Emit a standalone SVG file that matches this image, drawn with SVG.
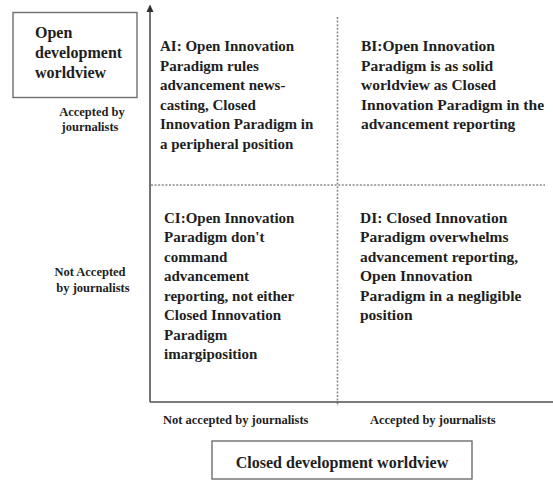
<svg xmlns="http://www.w3.org/2000/svg" width="553" height="480" viewBox="0 0 553 480">
  <style>
    .t { font-family: "Liberation Serif", "Times New Roman", serif; font-weight: bold; fill: #1e1e1e; }
    .q { font-size: 15px; }
    .qr { font-size: 15.5px; }
    .lbl { font-size: 12.5px; }
    .box { fill: #ffffff; stroke: #6e6e6e; stroke-width: 1.4; }
    .axis { stroke: #505050; stroke-width: 1.6; fill: none; }
    .grid { stroke: #8a8a8a; stroke-width: 1.6; stroke-dasharray: 2 1.6; fill: none; }
  </style>
  <defs>
    <marker id="arrowUp" viewBox="0 0 10 10" refX="5" refY="0" markerWidth="5" markerHeight="5" orient="auto-start-reverse" markerUnits="userSpaceOnUse">
      <path d="M0,0 L10,5 L0,10 Z" fill="#303030"/>
    </marker>
  </defs>
  <rect width="553" height="480" fill="#ffffff"/>

  <!-- axes and quadrant dividers -->
  <g id="connectors">
    <line class="grid" x1="337.5" y1="17" x2="337.5" y2="406"/>
    <line class="grid" x1="151" y1="185" x2="545" y2="185"/>
    <line class="axis" x1="150" y1="402" x2="553" y2="402"/>
    <line class="axis" x1="150" y1="402" x2="150" y2="11"/>
    <path d="M146.5,12 L150,4.5 L153.5,12 Z" fill="#303030"/>
  </g>

  <!-- vertical axis title -->
  <g id="open-worldview">
    <rect class="box" x="13" y="12.5" width="124" height="85"/>
    <text class="t" font-size="16" x="35" y="38">Open</text>
    <text class="t" font-size="16" x="35" y="58">development</text>
    <text class="t" font-size="16" x="35" y="78">worldview</text>
  </g>

  <!-- vertical axis labels -->
  <g id="label-y-accepted">
    <text class="t lbl" x="92" y="116" text-anchor="middle">Accepted by</text>
    <text class="t lbl" x="90" y="131" text-anchor="middle">journalists</text>
  </g>
  <g id="label-y-not-accepted">
    <text class="t lbl" x="90" y="276" text-anchor="middle">Not Accepted</text>
    <text class="t lbl" x="93" y="292" text-anchor="middle">by journalists</text>
  </g>

  <!-- quadrants -->
  <g id="quadrant-ai" class="t q">
    <text x="160" y="51">AI: Open Innovation</text>
    <text x="160" y="70.5">Paradigm rules</text>
    <text x="160" y="90">advancement news-</text>
    <text x="160" y="109.5">casting, Closed</text>
    <text x="160" y="129">Innovation Paradigm in</text>
    <text x="160" y="148.5">a peripheral position</text>
  </g>
  <g id="quadrant-bi" class="t qr">
    <text x="361" y="51">BI:Open Innovation</text>
    <text x="361" y="70.5">Paradigm is as solid</text>
    <text x="361" y="90">worldview as Closed</text>
    <text x="361" y="109.5">Innovation Paradigm in the</text>
    <text x="361" y="129">advancement reporting</text>
  </g>
  <g id="quadrant-ci" class="t q">
    <text x="164" y="222.5">CI:Open Innovation</text>
    <text x="164" y="242">Paradigm don't</text>
    <text x="164" y="261.5">command</text>
    <text x="164" y="281">advancement</text>
    <text x="164" y="300.5">reporting, not either</text>
    <text x="164" y="320">Closed Innovation</text>
    <text x="164" y="339.5">Paradigm</text>
    <text x="164" y="359">imargiposition</text>
  </g>
  <g id="quadrant-di" class="t qr">
    <text x="360" y="222.5">DI: Closed Innovation</text>
    <text x="360" y="242">Paradigm overwhelms</text>
    <text x="360" y="261.5">advancement reporting,</text>
    <text x="360" y="281">Open Innovation</text>
    <text x="360" y="300.5">Paradigm in a negligible</text>
    <text x="360" y="320">position</text>
  </g>

  <!-- horizontal axis labels -->
  <g id="label-x-not-accepted">
    <text class="t lbl" x="163" y="424">Not accepted by journalists</text>
  </g>
  <g id="label-x-accepted">
    <text class="t lbl" x="370" y="424">Accepted by journalists</text>
  </g>

  <!-- horizontal axis title -->
  <g id="closed-worldview">
    <rect class="box" x="212" y="441" width="260" height="38"/>
    <text class="t" font-size="16" x="342" y="468" text-anchor="middle">Closed development worldview</text>
  </g>
</svg>
